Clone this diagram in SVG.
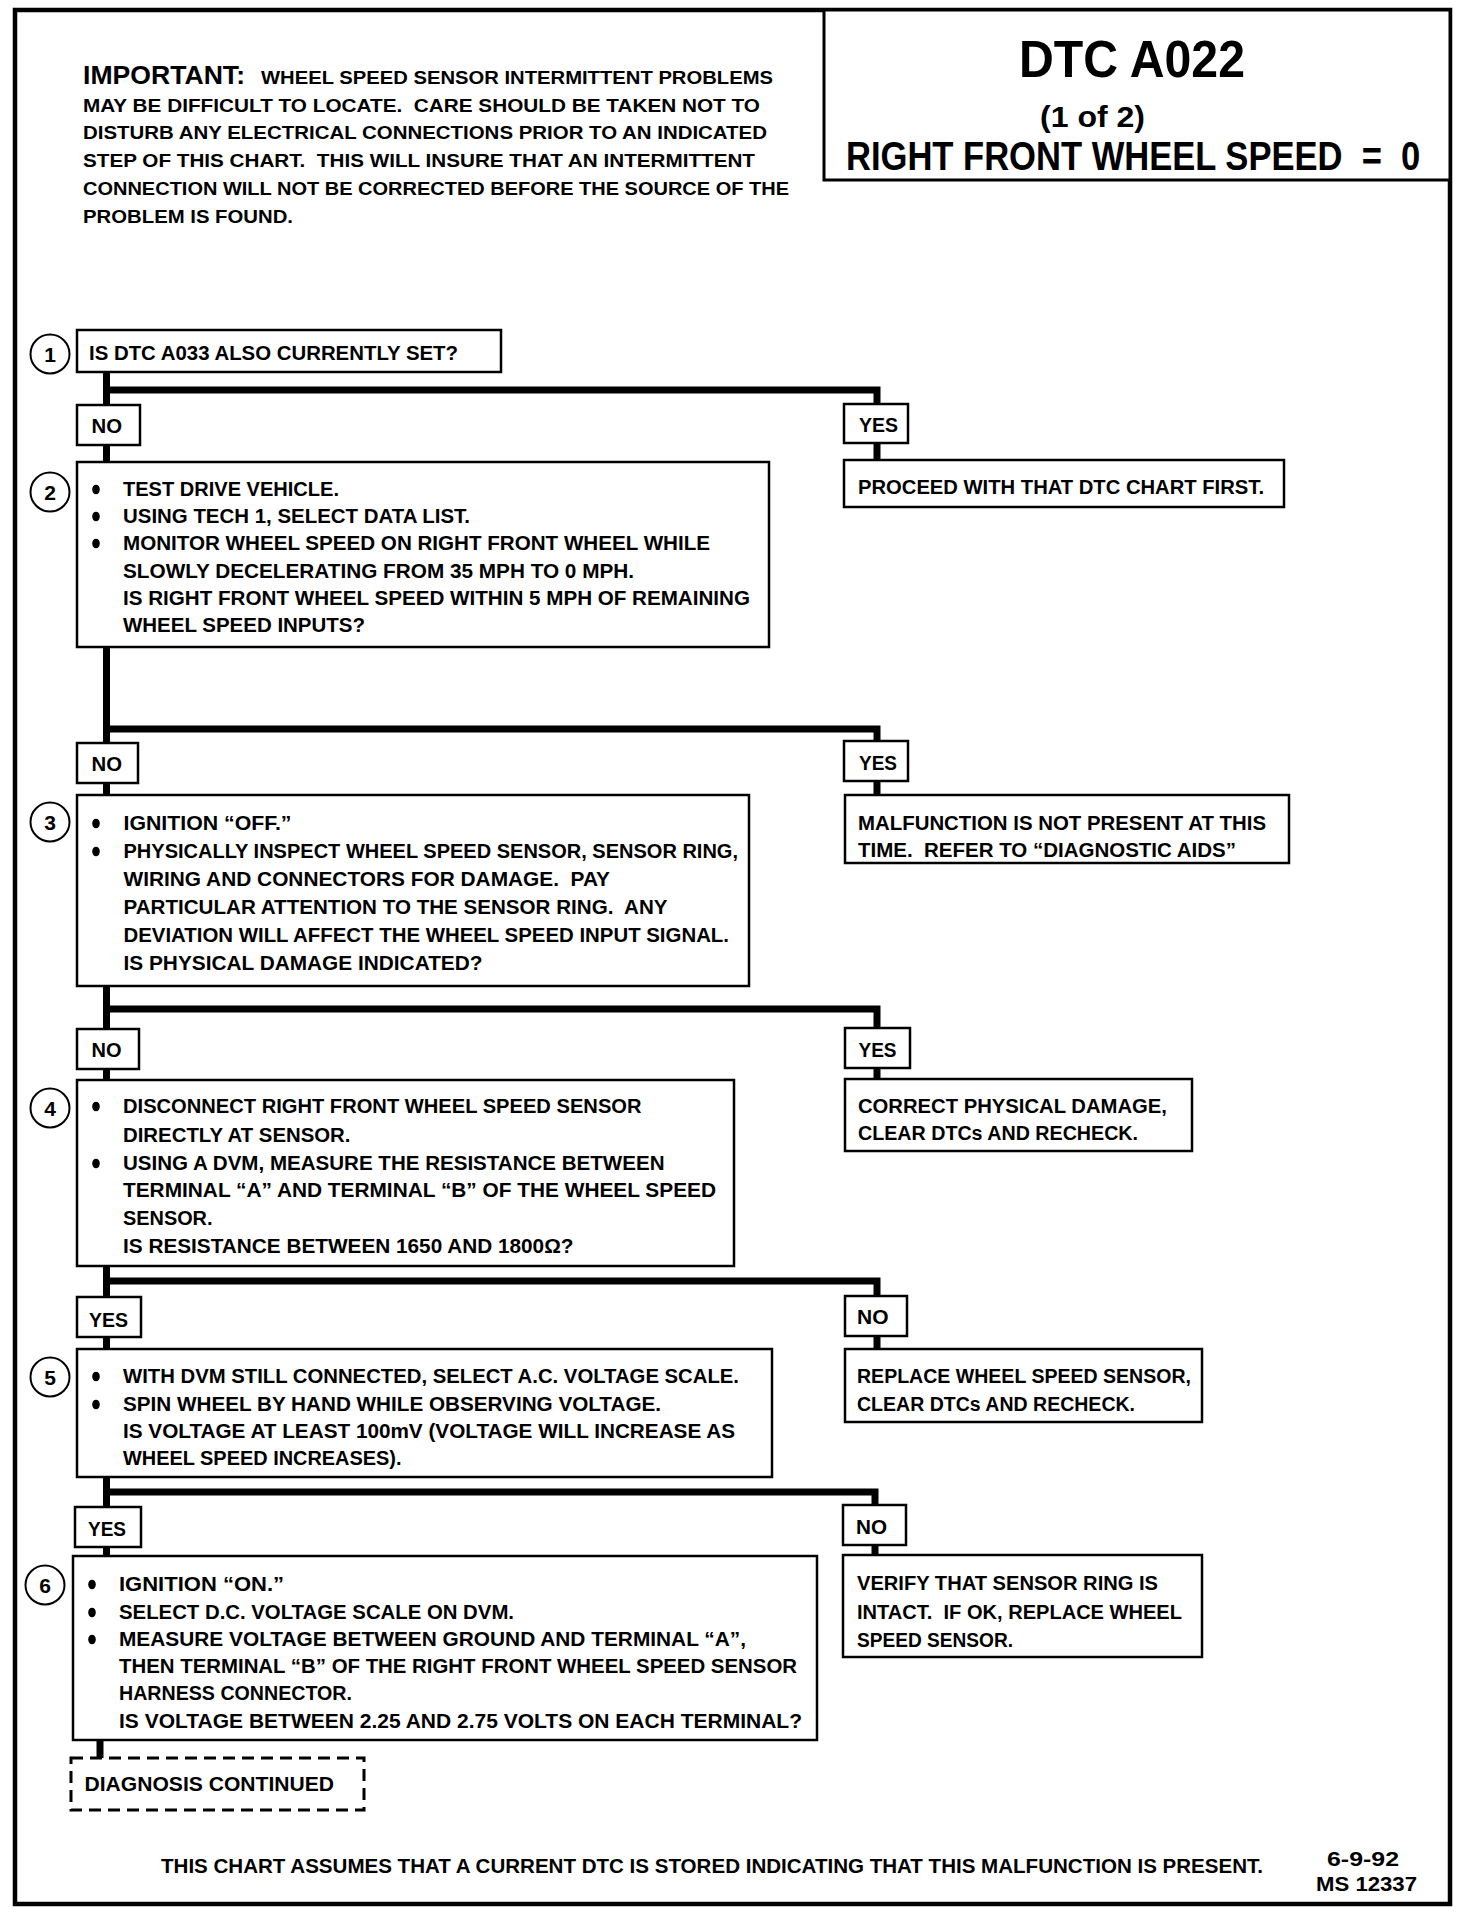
<svg xmlns="http://www.w3.org/2000/svg" width="1472" height="1914" viewBox="0 0 1472 1914">
<style>
.bg{fill:#fff}
.frame{fill:none;stroke:#000;stroke-width:4.5}
.box{fill:#fff;stroke:#000;stroke-width:2.5}
.dash{fill:#fff;stroke:#000;stroke-width:3;stroke-dasharray:12 7}
.num{fill:#fff;stroke:#000;stroke-width:2}
.con{fill:none;stroke:#000;stroke-width:7;stroke-linejoin:miter;stroke-linecap:butt}
text{font-family:"Liberation Sans Narrow","Liberation Sans",Arial,sans-serif;font-weight:bold;fill:#000;white-space:pre}
.t{font-size:20px}
.s{font-size:18.5px}
.n{font-size:21px;text-anchor:middle}
.b{fill:#000}
</style>
<rect class="bg" x="0" y="0" width="1472" height="1914"/>
<rect class="frame" x="15" y="10" width="1435" height="1894"/>

<g id="title">
<rect class="box" x="824" y="10" width="626" height="170" style="stroke-width:3"/>
<text x="1019" y="77" style="font-size:51px" textLength="226" lengthAdjust="spacingAndGlyphs">DTC A022</text>
<text x="1040" y="127" style="font-size:29px" textLength="105" lengthAdjust="spacingAndGlyphs">(1 of 2)</text>
<text transform="translate(846 170) scale(0.852 1)" x="0" y="0" style="font-size:40.5px" textLength="674" lengthAdjust="spacingAndGlyphs">RIGHT FRONT WHEEL SPEED  =  0</text>
</g>

<g id="important">
<text x="83" y="84" style="font-size:26px" textLength="162" lengthAdjust="spacingAndGlyphs">IMPORTANT:</text>
<text class="s" x="261" y="84" textLength="512" lengthAdjust="spacingAndGlyphs">WHEEL SPEED SENSOR INTERMITTENT PROBLEMS</text>
<text class="s" x="83" y="111.7" textLength="677" lengthAdjust="spacingAndGlyphs">MAY BE DIFFICULT TO LOCATE.  CARE SHOULD BE TAKEN NOT TO</text>
<text class="s" x="83" y="139.4" textLength="684" lengthAdjust="spacingAndGlyphs">DISTURB ANY ELECTRICAL CONNECTIONS PRIOR TO AN INDICATED</text>
<text class="s" x="83" y="167" textLength="672" lengthAdjust="spacingAndGlyphs">STEP OF THIS CHART.  THIS WILL INSURE THAT AN INTERMITTENT</text>
<text class="s" x="83" y="194.8" textLength="706" lengthAdjust="spacingAndGlyphs">CONNECTION WILL NOT BE CORRECTED BEFORE THE SOURCE OF THE</text>
<text class="s" x="83" y="222.5" textLength="210" lengthAdjust="spacingAndGlyphs">PROBLEM IS FOUND.</text>
</g>

<g id="connectors">
<path class="con" d="M106.5 372 V462 M106.5 390 H877 V460"/>
<path class="con" d="M106.5 647 V795 M106.5 729 H877 V795"/>
<path class="con" d="M106.5 986 V1080 M106.5 1009 H877 V1079"/>
<path class="con" d="M106.5 1266 V1349 M106.5 1281 H877 V1349"/>
<path class="con" d="M106.5 1477 V1556 M106.5 1492 H875 V1555"/>
<path class="con" d="M100 1740 V1758"/>
</g>

<g id="step1">
<circle class="num" cx="50" cy="354" r="19.5"/>
<text class="n" x="50" y="361.5">1</text>
<rect class="box" x="77" y="330" width="424" height="42"/>
<text class="t" x="89" y="360" textLength="369" lengthAdjust="spacingAndGlyphs">IS DTC A033 ALSO CURRENTLY SET?</text>
</g>

<g id="no1">
<rect class="box" x="77" y="405" width="63" height="40"/>
<text class="t" x="91.5" y="433" textLength="30.5" lengthAdjust="spacingAndGlyphs">NO</text>
</g>
<g id="yes1">
<rect class="box" x="844" y="404" width="64" height="39"/>
<text class="t" x="859" y="432" textLength="39" lengthAdjust="spacingAndGlyphs">YES</text>
</g>
<g id="proceed">
<rect class="box" x="844" y="460" width="440" height="47"/>
<text class="t" x="858" y="494" textLength="406" lengthAdjust="spacingAndGlyphs">PROCEED WITH THAT DTC CHART FIRST.</text>
</g>

<g id="step2">
<circle class="num" cx="50" cy="492" r="19.5"/>
<text class="n" x="50" y="499.5">2</text>
<rect class="box" x="77" y="462" width="692" height="185"/>
<ellipse class="b" cx="96" cy="489.5" rx="3.8" ry="4.8"/>
<ellipse class="b" cx="96" cy="516.5" rx="3.8" ry="4.8"/>
<ellipse class="b" cx="96" cy="543.5" rx="3.8" ry="4.8"/>
<text class="t" x="123" y="496" textLength="216" lengthAdjust="spacingAndGlyphs">TEST DRIVE VEHICLE.</text>
<text class="t" x="123" y="523" textLength="347" lengthAdjust="spacingAndGlyphs">USING TECH 1, SELECT DATA LIST.</text>
<text class="t" x="123" y="550" textLength="587" lengthAdjust="spacingAndGlyphs">MONITOR WHEEL SPEED ON RIGHT FRONT WHEEL WHILE</text>
<text class="t" x="123" y="578" textLength="511" lengthAdjust="spacingAndGlyphs">SLOWLY DECELERATING FROM 35 MPH TO 0 MPH.</text>
<text class="t" x="123" y="605" textLength="627" lengthAdjust="spacingAndGlyphs">IS RIGHT FRONT WHEEL SPEED WITHIN 5 MPH OF REMAINING</text>
<text class="t" x="123" y="632" textLength="242" lengthAdjust="spacingAndGlyphs">WHEEL SPEED INPUTS?</text>
</g>

<g id="no2">
<rect class="box" x="77" y="743" width="61" height="40"/>
<text class="t" x="91.5" y="771" textLength="30.5" lengthAdjust="spacingAndGlyphs">NO</text>
</g>
<g id="yes2">
<rect class="box" x="844" y="741" width="64" height="40"/>
<text class="t" x="859" y="770" textLength="38" lengthAdjust="spacingAndGlyphs">YES</text>
</g>
<g id="malfunction">
<rect class="box" x="845" y="795" width="444" height="68"/>
<text class="t" x="858" y="830" textLength="408" lengthAdjust="spacingAndGlyphs">MALFUNCTION IS NOT PRESENT AT THIS</text>
<text class="t" x="858" y="857" textLength="378" lengthAdjust="spacingAndGlyphs">TIME.  REFER TO “DIAGNOSTIC AIDS”</text>
</g>

<g id="step3">
<circle class="num" cx="50" cy="822" r="19.5"/>
<text class="n" x="50" y="829.5">3</text>
<rect class="box" x="77" y="795" width="672" height="191"/>
<ellipse class="b" cx="96" cy="823.5" rx="3.8" ry="4.8"/>
<ellipse class="b" cx="96" cy="851.5" rx="3.8" ry="4.8"/>
<text class="t" x="123.5" y="830" textLength="168" lengthAdjust="spacingAndGlyphs">IGNITION “OFF.”</text>
<text class="t" x="123.5" y="858" textLength="614.5" lengthAdjust="spacingAndGlyphs">PHYSICALLY INSPECT WHEEL SPEED SENSOR, SENSOR RING,</text>
<text class="t" x="123.5" y="886" textLength="486.5" lengthAdjust="spacingAndGlyphs">WIRING AND CONNECTORS FOR DAMAGE.  PAY</text>
<text class="t" x="123.5" y="914" textLength="544" lengthAdjust="spacingAndGlyphs">PARTICULAR ATTENTION TO THE SENSOR RING.  ANY</text>
<text class="t" x="123.5" y="942" textLength="605.5" lengthAdjust="spacingAndGlyphs">DEVIATION WILL AFFECT THE WHEEL SPEED INPUT SIGNAL.</text>
<text class="t" x="123.5" y="970" textLength="359" lengthAdjust="spacingAndGlyphs">IS PHYSICAL DAMAGE INDICATED?</text>
</g>

<g id="no3">
<rect class="box" x="77" y="1029" width="62" height="40"/>
<text class="t" x="91.5" y="1057" textLength="30" lengthAdjust="spacingAndGlyphs">NO</text>
</g>
<g id="yes3">
<rect class="box" x="845" y="1028" width="65" height="40"/>
<text class="t" x="858.5" y="1057" textLength="38" lengthAdjust="spacingAndGlyphs">YES</text>
</g>
<g id="correct">
<rect class="box" x="845" y="1079" width="347" height="72"/>
<text class="t" x="858" y="1113" textLength="309" lengthAdjust="spacingAndGlyphs">CORRECT PHYSICAL DAMAGE,</text>
<text class="t" x="858" y="1140" textLength="280" lengthAdjust="spacingAndGlyphs">CLEAR DTCs AND RECHECK.</text>
</g>

<g id="step4">
<circle class="num" cx="50" cy="1108" r="19.5"/>
<text class="n" x="50" y="1115.5">4</text>
<rect class="box" x="77" y="1080" width="657" height="186"/>
<ellipse class="b" cx="96" cy="1106.5" rx="3.8" ry="4.8"/>
<ellipse class="b" cx="96" cy="1163.5" rx="3.8" ry="4.8"/>
<text class="t" x="123" y="1113" textLength="518.5" lengthAdjust="spacingAndGlyphs">DISCONNECT RIGHT FRONT WHEEL SPEED SENSOR</text>
<text class="t" x="123" y="1142" textLength="227.5" lengthAdjust="spacingAndGlyphs">DIRECTLY AT SENSOR.</text>
<text class="t" x="123" y="1170" textLength="541.5" lengthAdjust="spacingAndGlyphs">USING A DVM, MEASURE THE RESISTANCE BETWEEN</text>
<text class="t" x="123" y="1197" textLength="593" lengthAdjust="spacingAndGlyphs">TERMINAL “A” AND TERMINAL “B” OF THE WHEEL SPEED</text>
<text class="t" x="123" y="1225" textLength="89.5" lengthAdjust="spacingAndGlyphs">SENSOR.</text>
<text class="t" x="123" y="1253" textLength="450.5" lengthAdjust="spacingAndGlyphs">IS RESISTANCE BETWEEN 1650 AND 1800Ω?</text>
</g>

<g id="yes4">
<rect class="box" x="77" y="1297" width="64" height="40"/>
<text class="t" x="89" y="1327" textLength="39" lengthAdjust="spacingAndGlyphs">YES</text>
</g>
<g id="no4">
<rect class="box" x="845" y="1296" width="62" height="40"/>
<text class="t" x="857" y="1324" textLength="31.5" lengthAdjust="spacingAndGlyphs">NO</text>
</g>
<g id="replace">
<rect class="box" x="845" y="1349" width="357" height="73"/>
<text class="t" x="857" y="1383" textLength="334" lengthAdjust="spacingAndGlyphs">REPLACE WHEEL SPEED SENSOR,</text>
<text class="t" x="857" y="1411" textLength="278" lengthAdjust="spacingAndGlyphs">CLEAR DTCs AND RECHECK.</text>
</g>

<g id="step5">
<circle class="num" cx="50" cy="1377" r="19.5"/>
<text class="n" x="50" y="1384.5">5</text>
<rect class="box" x="77" y="1349" width="695" height="128"/>
<ellipse class="b" cx="96" cy="1376.5" rx="3.8" ry="4.8"/>
<ellipse class="b" cx="96" cy="1404.5" rx="3.8" ry="4.8"/>
<text class="t" x="123" y="1383" textLength="616" lengthAdjust="spacingAndGlyphs">WITH DVM STILL CONNECTED, SELECT A.C. VOLTAGE SCALE.</text>
<text class="t" x="123" y="1411" textLength="538" lengthAdjust="spacingAndGlyphs">SPIN WHEEL BY HAND WHILE OBSERVING VOLTAGE.</text>
<text class="t" x="123" y="1438" textLength="612" lengthAdjust="spacingAndGlyphs">IS VOLTAGE AT LEAST 100mV (VOLTAGE WILL INCREASE AS</text>
<text class="t" x="123" y="1465" textLength="278.5" lengthAdjust="spacingAndGlyphs">WHEEL SPEED INCREASES).</text>
</g>

<g id="yes5">
<rect class="box" x="75" y="1507" width="66" height="40"/>
<text class="t" x="88" y="1536" textLength="38" lengthAdjust="spacingAndGlyphs">YES</text>
</g>
<g id="no5">
<rect class="box" x="843" y="1505" width="63" height="40"/>
<text class="t" x="856" y="1534" textLength="31" lengthAdjust="spacingAndGlyphs">NO</text>
</g>
<g id="verify">
<rect class="box" x="843" y="1555" width="359" height="102"/>
<text class="t" x="857" y="1590" textLength="301" lengthAdjust="spacingAndGlyphs">VERIFY THAT SENSOR RING IS</text>
<text class="t" x="857" y="1619" textLength="325" lengthAdjust="spacingAndGlyphs">INTACT.  IF OK, REPLACE WHEEL</text>
<text class="t" x="857" y="1647" textLength="156" lengthAdjust="spacingAndGlyphs">SPEED SENSOR.</text>
</g>

<g id="step6">
<circle class="num" cx="45" cy="1585" r="19.5"/>
<text class="n" x="45" y="1592.5">6</text>
<rect class="box" x="73" y="1556" width="744" height="184"/>
<ellipse class="b" cx="92" cy="1584.5" rx="3.8" ry="4.8"/>
<ellipse class="b" cx="92" cy="1612.5" rx="3.8" ry="4.8"/>
<ellipse class="b" cx="92" cy="1639.5" rx="3.8" ry="4.8"/>
<text class="t" x="119" y="1591" textLength="165" lengthAdjust="spacingAndGlyphs">IGNITION “ON.”</text>
<text class="t" x="119" y="1619" textLength="395" lengthAdjust="spacingAndGlyphs">SELECT D.C. VOLTAGE SCALE ON DVM.</text>
<text class="t" x="119" y="1646" textLength="627" lengthAdjust="spacingAndGlyphs">MEASURE VOLTAGE BETWEEN GROUND AND TERMINAL “A”,</text>
<text class="t" x="119" y="1673" textLength="678" lengthAdjust="spacingAndGlyphs">THEN TERMINAL “B” OF THE RIGHT FRONT WHEEL SPEED SENSOR</text>
<text class="t" x="119" y="1700" textLength="233" lengthAdjust="spacingAndGlyphs">HARNESS CONNECTOR.</text>
<text class="t" x="119" y="1728" textLength="683" lengthAdjust="spacingAndGlyphs">IS VOLTAGE BETWEEN 2.25 AND 2.75 VOLTS ON EACH TERMINAL?</text>
</g>

<g id="continued">
<rect class="dash" x="71" y="1758" width="293" height="52"/>
<text class="t" x="84.5" y="1791" textLength="249.5" lengthAdjust="spacingAndGlyphs">DIAGNOSIS CONTINUED</text>
</g>

<g id="footer">
<text class="t" x="161" y="1873" textLength="1102" lengthAdjust="spacingAndGlyphs">THIS CHART ASSUMES THAT A CURRENT DTC IS STORED INDICATING THAT THIS MALFUNCTION IS PRESENT.</text>
<text class="t" x="1327" y="1866" textLength="72" lengthAdjust="spacingAndGlyphs">6-9-92</text>
<text class="t" x="1316" y="1891" textLength="101" lengthAdjust="spacingAndGlyphs">MS 12337</text>
</g>
</svg>
